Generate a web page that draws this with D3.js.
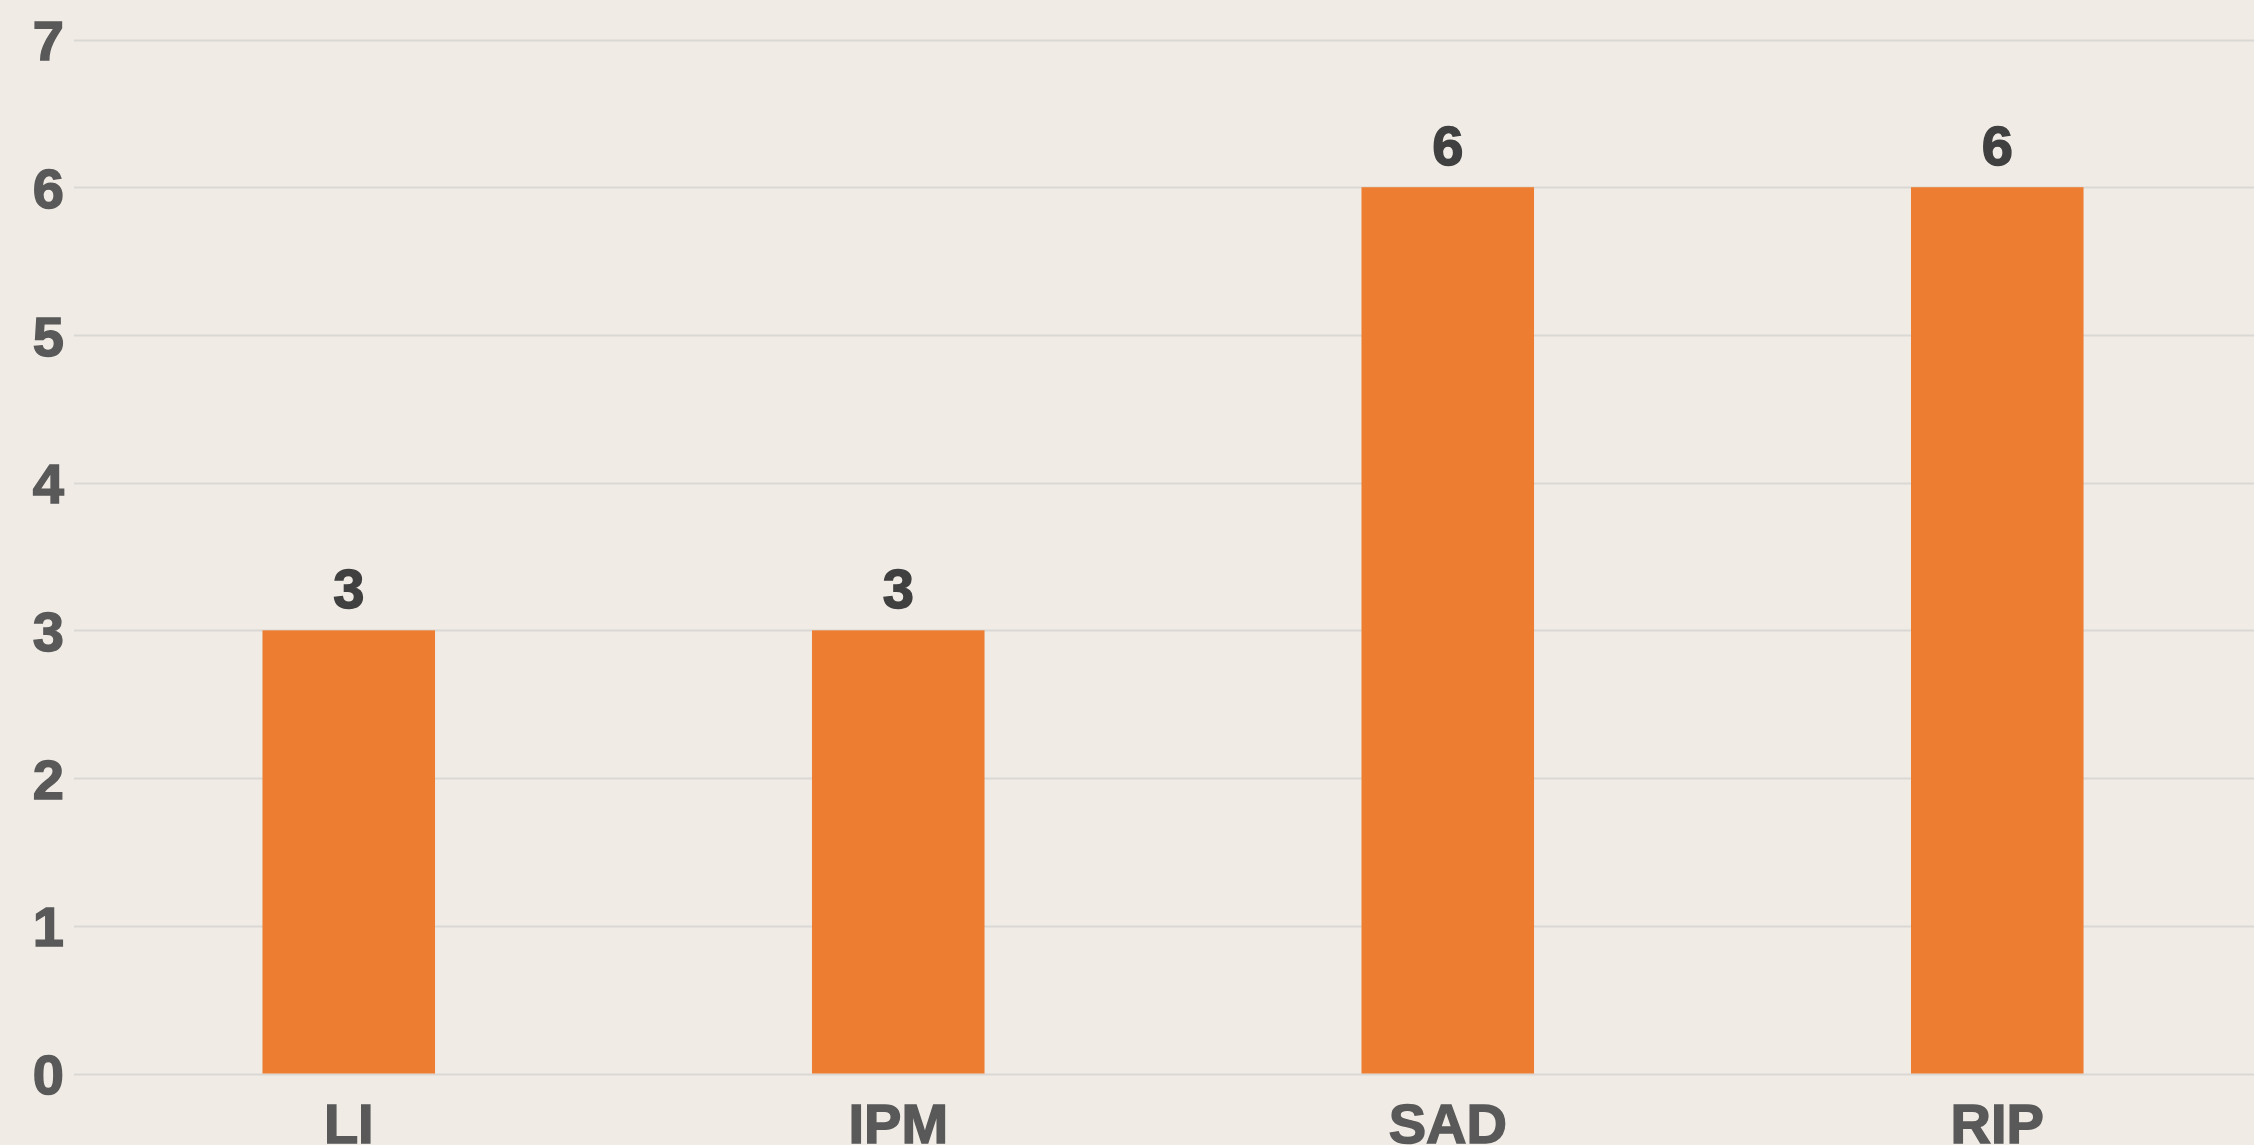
<!DOCTYPE html>
<html lang="en">

<head>
  <meta charset="UTF-8">
  <title>Bar chart</title>
  <style>
    * {
      margin: 0;
    }

    body {
      background: #f0ebe5;
      overflow: hidden;
    }

    text {
      font-family: "Liberation Sans", Arial, Helvetica, sans-serif;
      font-weight: bold;
    }
  </style>
</head>

<body>
  <div id="chart"></div>
  <script src="https://cdnjs.cloudflare.com/ajax/libs/d3/7.8.5/d3.min.js"></script>
  <script type="text/javascript">
    const categories = ['LI', 'IPM', 'SAD', 'RIP'];
    const values = [3, 3, 6, 6];
    const yTicks = [0, 1, 2, 3, 4, 5, 6, 7];

    const width = 2254;
    const height = 1145;

    const svg = d3.select('#chart')
      .append('svg')
      .attr('width', width)
      .attr('height', height);

    const x = d3.scaleBand()
      .domain(categories)
      .range([74, 2272])
      .paddingInner(0.686)
      .paddingOuter(0.343);

    const y = d3.scaleLinear()
      .domain([0, 7])
      .range([1073.5, 39.5]);

    // gridlines
    svg.append('g')
      .selectAll('line')
      .data(yTicks)
      .enter().append('line')
      .attr('x1', 74)
      .attr('x2', width)
      .attr('y1', d => Math.round(y(d)) + 0.5)
      .attr('y2', d => Math.round(y(d)) + 0.5)
      .attr('stroke', '#d9d8d5')
      .attr('stroke-width', 2);

    // y axis labels
    const yAxis = d3.axisLeft(y)
      .tickValues(yTicks)
      .tickFormat(d3.format('d'))
      .tickSize(0)
      .tickPadding(0);
    const gy = svg.append('g')
      .attr('transform', 'translate(64,0)')
      .call(yAxis);
    gy.select('.domain').remove();
    gy.selectAll('text')
      .attr('fill', '#595959')
      .attr('stroke', '#595959')
      .attr('stroke-width', 1.5)
      .attr('font-size', 56)
      .attr('font-family', '"Liberation Sans", Arial, sans-serif')
      .attr('font-weight', 'bold')
      .attr('dy', '0.36em');

    // bars
    svg.append('g')
      .selectAll('rect')
      .data(values)
      .enter().append('rect')
      .attr('x', (d, i) => x(categories[i]))
      .attr('width', x.bandwidth())
      .attr('y', d => y(d))
      .attr('height', d => y(0) - y(d))
      .attr('fill', '#ed7d31');

    // value labels
    svg.append('g')
      .selectAll('text')
      .data(values)
      .enter().append('text')
      .attr('x', (d, i) => x(categories[i]) + x.bandwidth() / 2)
      .attr('y', d => y(d) - 22)
      .attr('text-anchor', 'middle')
      .attr('font-size', 56)
      .attr('fill', '#404040')
      .attr('stroke', '#404040')
      .attr('stroke-width', 1.5)
      .text(d => d);

    // x axis labels
    const xAxis = d3.axisBottom(x).tickSize(0).tickPadding(0);
    const gx = svg.append('g')
      .attr('transform', `translate(0,${y(0)})`)
      .call(xAxis);
    gx.select('.domain').remove();
    gx.selectAll('text')
      .attr('fill', '#595959')
      .attr('stroke', '#595959')
      .attr('stroke-width', 1.5)
      .attr('font-size', 56)
      .attr('font-family', '"Liberation Sans", Arial, sans-serif')
      .attr('font-weight', 'bold')
      .attr('dy', 0)
      .attr('y', 69);
  </script>
</body>

</html>
